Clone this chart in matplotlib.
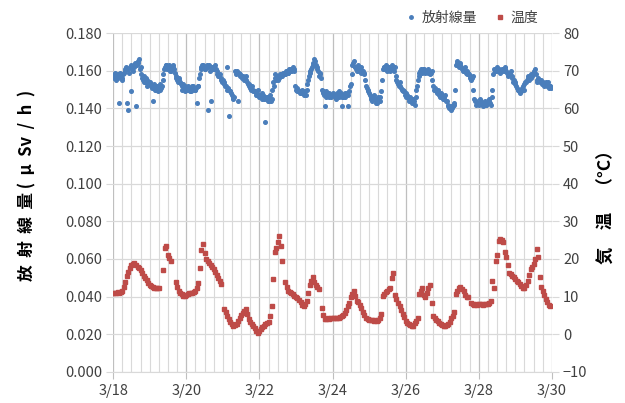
import numpy as np
import matplotlib
matplotlib.use("Agg")
import matplotlib.pyplot as plt
from matplotlib.ticker import MultipleLocator, FixedLocator, FuncFormatter

plt.rcParams['font.family'] = ['Noto Sans CJK JP', 'DejaVu Sans']

# radiation readings on the hour, starting 3/18 00:00
rad_d18 = [0.157,0.159,0.155,0.158,0.143,0.157,0.156,0.159,0.161,0.143,0.139,0.162,0.149,0.160,0.163,0.141,0.164,0.166,0.162,0.156,0.157,0.154,0.155,0.153]
rad_d19 = [0.154,0.152,0.144,0.153,0.150,0.152,0.151,0.150,0.152,0.158,0.162,0.163,0.161,0.162,0.160,0.163,0.161,0.157,0.155,0.156,0.154,0.152,0.153,0.149]
rad_d20 = [0.151,0.152,0.150,0.149,0.152,0.151,0.150,0.143,0.152,0.158,0.162,0.163,0.161,0.162,0.139,0.163,0.144,0.162,0.161,0.163,0.160,0.157,0.158,0.156]
rad_d21 = [0.155,0.154,0.152,0.162,0.136,0.149,0.147,0.145,0.160,0.159,0.144,0.158,0.157,0.156,0.155,0.157,0.154,0.153,0.151,0.152,0.150,0.149,0.148,0.150]
rad_d22 = [0.147,0.146,0.148,0.145,0.133,0.146,0.144,0.147,0.145,0.154,0.158,0.155,0.157,0.156,0.158,0.157,0.159,0.158,0.160,0.159,0.161,0.160,0.162,0.161]
rad_d23 = [0.150,0.151,0.149,0.148,0.150,0.147,0.149,0.150,0.155,0.159,0.161,0.163,0.166,0.163,0.161,0.157,0.159,0.150,0.148,0.141,0.149,0.147,0.148,0.146]
rad_d24 = [0.148,0.147,0.146,0.148,0.149,0.147,0.141,0.146,0.148,0.147,0.141,0.149,0.153,0.163,0.165,0.162,0.160,0.163,0.161,0.159,0.160,0.158,0.152,0.150]
rad_d25 = [0.148,0.146,0.144,0.147,0.145,0.143,0.146,0.144,0.149,0.161,0.162,0.163,0.160,0.162,0.161,0.163,0.161,0.162,0.155,0.153,0.154,0.151,0.150,0.149]
rad_d26 = [0.148,0.147,0.145,0.146,0.144,0.145,0.142,0.150,0.155,0.159,0.161,0.160,0.161,0.159,0.160,0.161,0.158,0.160,0.152,0.151,0.149,0.150,0.147,0.148]
rad_d27 = [0.146,0.145,0.147,0.144,0.141,0.140,0.139,0.141,0.143,0.163,0.165,0.162,0.164,0.161,0.160,0.162,0.158,0.159,0.157,0.155,0.157,0.145,0.144,0.143]
rad_d28 = [0.142,0.145,0.143,0.141,0.144,0.142,0.143,0.145,0.142,0.150,0.161,0.160,0.162,0.161,0.159,0.160,0.161,0.162,0.160,0.159,0.158,0.160,0.156,0.155]
rad_d29 = [0.153,0.151,0.150,0.148,0.149,0.152,0.153,0.154,0.156,0.155,0.158,0.157,0.159,0.161,0.155,0.156,0.154,0.155,0.153,0.152,0.154,0.153,0.151,0.152]

# radiation readings on the half hour
radh_d18 = [0.156,0.158,0.157,0.156,0.159,0.155,0.158,0.160,0.162,0.161,0.159,0.163,0.161,0.162,0.164,0.163,0.165,0.161,0.158,0.155,0.154,0.156,0.152,0.154]
radh_d19 = [0.153,0.151,0.152,0.150,0.152,0.149,0.153,0.151,0.155,0.161,0.163,0.161,0.163,0.160,0.162,0.162,0.159,0.156,0.154,0.155,0.153,0.150,0.151,0.152]
radh_d20 = [0.150,0.151,0.149,0.150,0.152,0.150,0.151,0.152,0.156,0.161,0.163,0.162,0.161,0.163,0.162,0.160,0.162,0.161,0.162,0.161,0.158,0.157,0.155,0.154]
radh_d21 = [0.153,0.152,0.150,0.151,0.149,0.148,0.146,0.146,0.158,0.160,0.159,0.157,0.156,0.157,0.156,0.155,0.153,0.152,0.150,0.149,0.149,0.147,0.147,0.146]
radh_d22 = [0.146,0.145,0.147,0.146,0.145,0.144,0.146,0.144,0.150,0.152,0.156,0.157,0.155,0.158,0.157,0.159,0.158,0.160,0.159,0.161,0.160,0.161,0.160,0.152]
radh_d23 = [0.149,0.150,0.148,0.149,0.148,0.148,0.147,0.153,0.157,0.160,0.162,0.164,0.165,0.162,0.160,0.158,0.156,0.149,0.147,0.146,0.148,0.146,0.147,0.147]
radh_d24 = [0.147,0.146,0.145,0.147,0.146,0.148,0.146,0.147,0.146,0.148,0.147,0.152,0.158,0.164,0.162,0.161,0.162,0.160,0.162,0.160,0.159,0.155,0.151,0.149]
radh_d25 = [0.147,0.145,0.146,0.145,0.143,0.145,0.144,0.146,0.155,0.162,0.161,0.162,0.161,0.160,0.162,0.162,0.160,0.157,0.154,0.152,0.152,0.150,0.149,0.147]
radh_d26 = [0.146,0.146,0.144,0.145,0.143,0.144,0.146,0.152,0.157,0.160,0.159,0.161,0.160,0.160,0.159,0.160,0.159,0.155,0.150,0.150,0.148,0.148,0.146,0.147]
radh_d27 = [0.145,0.146,0.144,0.142,0.140,0.141,0.140,0.142,0.150,0.164,0.163,0.163,0.162,0.160,0.161,0.159,0.160,0.158,0.156,0.156,0.150,0.144,0.142,0.143]
radh_d28 = [0.143,0.144,0.142,0.143,0.142,0.143,0.144,0.143,0.146,0.158,0.160,0.161,0.160,0.160,0.160,0.161,0.160,0.161,0.159,0.157,0.159,0.157,0.154,0.154]
radh_d29 = [0.152,0.150,0.149,0.149,0.151,0.150,0.154,0.155,0.157,0.157,0.156,0.158,0.160,0.158,0.154,0.155,0.155,0.153,0.154,0.153,0.152,0.154,0.152,0.151]

nan = float('nan')
tmp_d18 = [11.0,11.1,11.0,11.2,11.1,11.3,11.5,12.5,14.0,15.5,16.5,17.5,18.3,18.8,19.0,18.5,18.0,17.6,17.0,16.3,15.6,15.0,14.3,13.6]
tmp_d19 = [13.2,12.8,12.5,12.3,12.2,12.4,12.3,nan,nan,17.0,22.8,23.5,21.0,20.3,19.6,nan,nan,13.8,12.5,11.6,11.0,10.6,10.3,10.1]
tmp_d20 = [10.4,10.8,11.0,11.1,11.0,11.2,11.5,12.2,13.5,17.5,22.5,24.0,21.5,20.0,19.6,19.0,18.5,17.8,17.3,16.6,15.8,15.0,14.2,13.3]
tmp_d21 = [nan,6.8,5.8,4.8,4.0,3.2,2.7,2.3,2.4,2.7,3.5,4.3,5.0,5.6,6.2,6.7,5.5,4.0,3.4,2.8,2.2,1.6,1.0,0.4]
tmp_d22 = [0.8,1.4,2.0,2.3,2.7,3.0,3.2,4.9,7.5,14.6,21.8,23.0,24.5,26.0,23.5,19.5,nan,13.8,12.5,11.6,11.2,10.9,10.7,10.3]
tmp_d23 = [10.0,9.6,9.0,8.5,7.9,7.4,8.0,8.9,11.0,13.0,14.2,15.2,14.0,13.2,12.5,12.0,nan,7.1,5.2,4.0,4.1,4.2,4.1,4.2]
tmp_d24 = [4.3,4.2,4.2,4.3,4.4,4.6,4.9,5.2,5.6,6.5,7.5,8.3,9.8,10.8,11.6,10.2,8.9,8.6,7.8,7.1,6.0,5.0,4.4,4.0]
tmp_d25 = [3.8,3.8,3.7,3.6,3.7,3.6,3.8,4.3,5.3,10.2,10.8,11.2,11.6,12.0,12.4,15.0,16.2,10.5,9.3,8.4,7.6,6.5,5.3,4.5]
tmp_d26 = [3.5,3.1,2.7,2.4,2.2,2.3,3.0,3.6,4.4,10.7,11.5,12.4,10.5,9.8,11.0,12.4,13.0,8.4,4.9,4.3,3.9,3.6,3.1,2.7]
tmp_d27 = [2.4,2.2,2.2,2.4,2.7,3.3,4.2,4.9,5.8,10.7,11.6,12.4,12.6,11.9,11.6,10.5,10.0,9.8,nan,8.2,8.0,7.9,8.0,7.9]
tmp_d28 = [8.0,8.1,8.0,7.9,8.0,8.1,8.0,8.3,8.9,14.2,12.4,19.6,21.0,24.9,25.3,25.0,24.6,21.8,20.4,18.5,16.4,16.0,15.5,15.1]
tmp_d29 = [14.6,14.2,13.8,13.3,12.8,12.4,12.3,13.2,14.2,15.8,17.3,18.0,18.8,20.0,22.7,20.5,15.1,12.5,11.6,10.5,9.3,8.5,7.8,7.4]

start_day = 18
tick_days = [18, 20, 22, 24, 26, 28, 30]
tick_labels = ['3/18', '3/20', '3/22', '3/24', '3/26', '3/28', '3/30']

radiation = np.array(rad_d18 + rad_d19 + rad_d20 + rad_d21 + rad_d22 + rad_d23 +
                     rad_d24 + rad_d25 + rad_d26 + rad_d27 + rad_d28 + rad_d29)
radiation_half = np.array(radh_d18 + radh_d19 + radh_d20 + radh_d21 + radh_d22 + radh_d23 +
                          radh_d24 + radh_d25 + radh_d26 + radh_d27 + radh_d28 + radh_d29)
temperature = np.array(tmp_d18 + tmp_d19 + tmp_d20 + tmp_d21 + tmp_d22 + tmp_d23 +
                       tmp_d24 + tmp_d25 + tmp_d26 + tmp_d27 + tmp_d28 + tmp_d29)
hours = np.arange(len(radiation))
x = start_day + hours / 24.0
x_half = start_day + (hours + 0.5) / 24.0
x_all = np.concatenate([x, x_half])
rad_all = np.concatenate([radiation, radiation_half])

blue = '#4A7EBB'
red = '#BE4B48'
grid_c = '#D9D9D9'
major_c = '#BFBFBF'
txt = '#404040'

fig = plt.figure(figsize=(6.25, 4.03), dpi=100)
ax = fig.add_axes([0.181, 0.077, 0.702, 0.841])
ax2 = ax.twinx()

ax.set_xlim(18, 30)
ax.set_ylim(0, 0.18)
ax2.set_ylim(-10, 80)

ax.xaxis.set_major_locator(FixedLocator(tick_days))
ax.set_xticklabels(tick_labels)
ax.xaxis.set_minor_locator(MultipleLocator(0.25))
ax.yaxis.set_major_locator(MultipleLocator(0.02))
ax.yaxis.set_major_formatter(FuncFormatter(lambda v, p: f'{v:.3f}'))
ax2.yaxis.set_major_locator(MultipleLocator(10))

ax.grid(True, which='minor', axis='x', color=grid_c, lw=0.8)
ax.grid(True, which='major', axis='x', color=major_c, lw=0.9)
ax.grid(True, which='major', axis='y', color=grid_c, lw=0.9)
ax.set_axisbelow(True)

for a in (ax, ax2):
    for s in a.spines.values():
        s.set_visible(False)
ax.spines['bottom'].set_visible(True)
ax.spines['bottom'].set_color(grid_c)

ax.tick_params(axis='x', which='major', length=5, color=major_c, labelsize=10.5, labelcolor=txt, pad=4)
ax.tick_params(axis='x', which='minor', length=0)
ax.tick_params(axis='y', length=5, color=grid_c, labelsize=10.5, labelcolor=txt, pad=3)
ax2.tick_params(axis='y', length=5, color=grid_c, labelsize=10.5, labelcolor=txt, pad=3)

ax.plot(x_all, rad_all, linestyle='none', marker='o', ms=2.6, color=blue, mec=blue, zorder=3)
ax2.plot(x, temperature, linestyle='none', marker='s', ms=2.3, color=red, mec=red, zorder=3)

ax.set_ylabel('放  射  線  量 (  μ  Sv  /  h  )', fontsize=12, fontweight='bold', color='black')
ax2.set_ylabel('気　温　（°C）', fontsize=12.5, fontweight='bold', color='black', rotation=90)
ax.yaxis.set_label_coords(-0.175, 0.55)
ax2.yaxis.set_label_coords(1.105, 0.50)

h1, = ax.plot([], [], linestyle='none', marker='o', ms=2.5, color=blue)
h2, = ax.plot([], [], linestyle='none', marker='s', ms=2.2, color=red)
fig.legend([h1, h2], ['放射線量', '温度'], loc='center', bbox_to_anchor=(0.755, 0.955),
           ncol=2, frameon=False, fontsize=10, handlelength=0.8, handletextpad=0.4,
           columnspacing=1.2, labelcolor=txt)

fig.savefig('out.png', dpi=100)
